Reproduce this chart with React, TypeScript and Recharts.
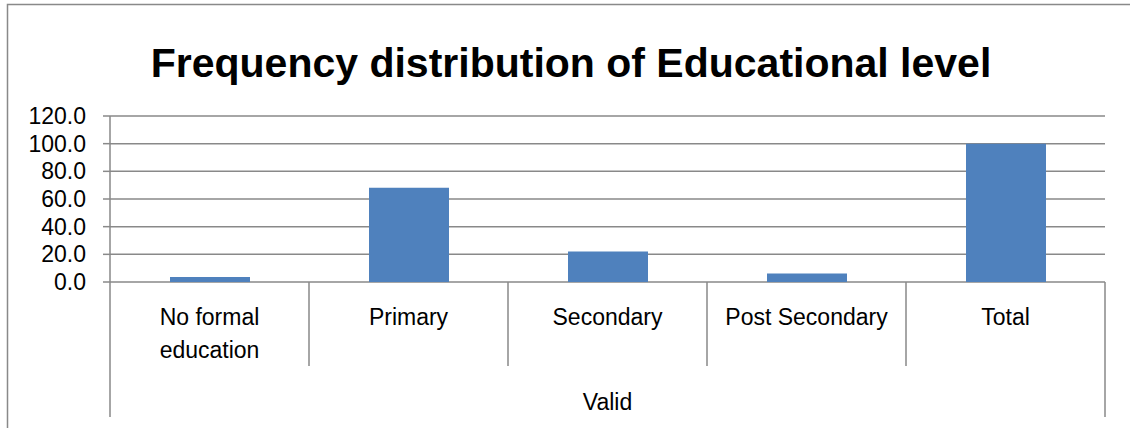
import * as React from 'react';
import { BarChart, Bar, XAxis, YAxis, CartesianGrid } from 'recharts';

// values (percent)
const categories = ['No formal education', 'Primary', 'Secondary', 'Post Secondary', 'Total'];
const percents = [3.6, 68.2, 22.1, 6.1, 100.0];
const groupLabel = 'Valid';
const yTicks = [0, 20, 40, 60, 80, 100, 120];
const title = 'Frequency distribution of Educational level';

const W = 1130;
const H = 428;
const MARGIN = { top: 116, right: 25, bottom: 0, left: 0 };
const Y_AXIS_W = 110;
const CAT_AXIS_H = 84;
const GROUP_AXIS_H = 62;
const PLOT_W = W - MARGIN.left - MARGIN.right - Y_AXIS_W;
const LINE = '#898989';
const FONT = '"Liberation Sans", Arial, sans-serif';

const data = categories.map((name, i) => ({ name, value: percents[i], group: groupLabel }));

// greedy word wrap, Excel-like
function wrap(text: string, maxChars: number) {
  const words = text.split(' ');
  const lines: string[] = [];
  let cur = '';
  words.forEach((w) => {
    const next = cur ? cur + ' ' + w : w;
    if (next.length > maxChars && cur) {
      lines.push(cur);
      cur = w;
    } else {
      cur = next;
    }
  });
  if (cur) lines.push(cur);
  return lines;
}

function CategoryTick(props: any) {
  const { x, y, payload, index } = props;
  const band = PLOT_W / categories.length;
  const lines = wrap(String(payload.value), 14);
  const left = x - band / 2;
  const right = x + band / 2;
  const longY = y + CAT_AXIS_H + GROUP_AXIS_H - 11;
  return (
    <g>
      <line x1={left} x2={left} y1={y} y2={index === 0 ? longY : y + CAT_AXIS_H} stroke={LINE} strokeWidth={1.5} />
      {index === categories.length - 1 && (
        <line x1={right} x2={right} y1={y} y2={longY} stroke={LINE} strokeWidth={1.5} />
      )}
      {lines.map((l, i) => (
        <text key={i} x={x} y={y + 43 + i * 33} textAnchor="middle" fill="#000" fontSize={23} fontFamily={FONT}>
          {l}
        </text>
      ))}
    </g>
  );
}

function GroupTick(props: any) {
  const { x, y, payload } = props;
  return (
    <text x={x} y={y + 44} textAnchor="middle" fill="#000" fontSize={23} fontFamily={FONT}>
      {payload.value}
    </text>
  );
}

export default function App() {
  return (
    <div style={{ position: 'absolute', left: 0, top: 0, width: W, height: H, overflow: 'hidden', background: '#fff', fontFamily: FONT }}>
      <svg width={W} height={H} style={{ position: 'absolute', left: 0, top: 0 }}>
        <polyline points={`${W},4.5 7.5,4.5 7.5,${H}`} fill="none" stroke={LINE} strokeWidth={1.5} />
        <text x={571} y={77} textAnchor="middle" fontSize={41} fontWeight="bold" fill="#000" fontFamily={FONT}>
          {title}
        </text>
      </svg>
      <div style={{ position: 'absolute', left: 0, top: 0 }}>
        <BarChart width={W} height={H} data={data} margin={MARGIN}>
          <CartesianGrid vertical={false} stroke={LINE} strokeWidth={1.5} />
          <YAxis
            width={Y_AXIS_W}
            domain={[0, 120]}
            ticks={yTicks}
            interval={0}
            tickFormatter={(v: number) => v.toFixed(1)}
            axisLine={{ stroke: LINE, strokeWidth: 1.5 }}
            tickLine={{ stroke: LINE, strokeWidth: 1.5 }}
            tickSize={7}
            tickMargin={17}
            tick={{ fill: '#000', fontSize: 23, fontFamily: FONT }}
          />
          <XAxis
            dataKey="name"
            height={CAT_AXIS_H}
            interval={0}
            axisLine={false}
            tickLine={false}
            tickSize={0}
            tickMargin={0}
            tick={<CategoryTick />}
          />
          <XAxis
            xAxisId="group"
            dataKey="group"
            allowDuplicatedCategory={false}
            height={GROUP_AXIS_H}
            axisLine={false}
            tickLine={false}
            tickSize={0}
            tickMargin={0}
            tick={<GroupTick />}
          />
          <Bar dataKey="value" fill="#4F81BD" barSize={80} isAnimationActive={false} />
        </BarChart>
      </div>
    </div>
  );
}
